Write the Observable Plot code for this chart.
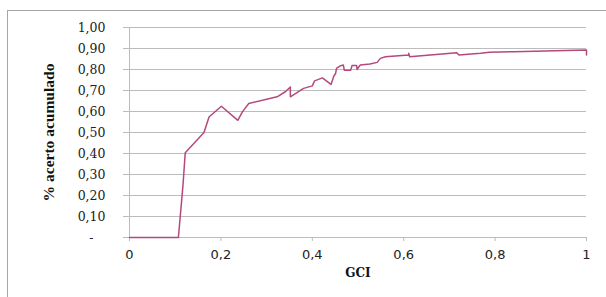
<!DOCTYPE html>
<html>
<head>
<meta charset="utf-8">
<script src="https://cdn.jsdelivr.net/npm/d3@7"></script>
<script src="https://cdn.jsdelivr.net/npm/@observablehq/plot@0.6"></script>
<style>
  html, body { margin: 0; padding: 0; background: #fff; }
  #wrap { position: relative; width: 606px; height: 297px; overflow: hidden; }
  #frame { position: absolute; left: 7px; top: 10px; width: 598px; height: 300px;
           border-top: 1px solid #a6a6a6; border-left: 1px solid #a6a6a6; }
  #chart { position: absolute; left: 0; top: 0; }
</style>
</head>
<body>
<div id="wrap"><div id="frame"></div><div id="chart"></div></div>
<script>
const gci = [0, 0.107, 0.117, 0.122, 0.163, 0.174, 0.201, 0.237, 0.247, 0.261, 0.323, 0.341, 0.352, 0.352, 0.381, 0.400, 0.405, 0.422, 0.441, 0.447, 0.451, 0.453, 0.462, 0.468, 0.470, 0.484, 0.487, 0.497, 0.498, 0.502, 0.505, 0.526, 0.542, 0.549, 0.560, 0.611, 0.611, 0.613, 0.716, 0.721, 0.768, 0.788, 0.841, 1.0, 1.0];
const acerto = [0, 0, 0.248, 0.404, 0.50, 0.574, 0.625, 0.558, 0.598, 0.638, 0.670, 0.694, 0.717, 0.670, 0.710, 0.722, 0.746, 0.760, 0.729, 0.768, 0.781, 0.805, 0.818, 0.821, 0.797, 0.797, 0.819, 0.819, 0.800, 0.813, 0.821, 0.826, 0.834, 0.853, 0.861, 0.869, 0.877, 0.861, 0.880, 0.869, 0.877, 0.882, 0.885, 0.893, 0.869];
const xTicks = [0, 0.2, 0.4, 0.6, 0.8, 1];
const yTicks = [0, 0.1, 0.2, 0.3, 0.4, 0.5, 0.6, 0.7, 0.8, 0.9, 1.0];
const xTitle = "GCI";
const yTitle = "% acerto acumulado";

const data = gci.map((g, i) => ({gci: g, acerto: acerto[i]}));
const grid = "#bcbcbc";

const chart = Plot.plot({
  width: 606,
  height: 297,
  marginLeft: 129,
  marginRight: 20,
  marginTop: 27,
  marginBottom: 60,
  style: {background: "transparent", overflow: "visible"},
  x: {domain: [0, 1]},
  y: {domain: [0, 1]},
  marks: [
    Plot.gridY(yTicks, {stroke: grid, strokeOpacity: 1, strokeWidth: 1}),
    Plot.axisY(yTicks, {
      tickSize: 6, tickPadding: 18, stroke: grid, strokeOpacity: 1,
      tickFormat: d => d === 0 ? "-\u00a0\u00a0\u00a0" : d.toFixed(2).replace(".", ","),
      fontFamily: "DejaVu Serif", fontSize: 12.5, fill: "#222", label: null,
      style: {letterSpacing: "1.2px"}
    }),
    Plot.axisX(xTicks, {
      tickSize: 4, tickPadding: 8, stroke: grid, strokeOpacity: 1,
      tickFormat: d => String(d).replace(".", ","),
      fontFamily: "DejaVu Sans", fontSize: 13, fill: "#222", label: null,
      style: {letterSpacing: "1px"}
    }),
    Plot.ruleX([0], {stroke: grid, strokeWidth: 1}),
    Plot.ruleY([0], {stroke: grid, strokeWidth: 1}),
    Plot.line(data, {x: "gci", y: "acerto", stroke: "#b5497d", strokeWidth: 1.5}),
    Plot.text([yTitle], {frameAnchor: "left", dx: -80, rotate: -90, textAnchor: "middle",
      fontFamily: "Liberation Serif", fontWeight: "bold", fontSize: 15.5, fill: "#111"}),
    Plot.text([xTitle], {frameAnchor: "bottom", dy: 39,
      fontFamily: "DejaVu Serif", fontWeight: "bold", fontSize: 12, fill: "#111",
      style: {letterSpacing: "1px"}})
  ]
});
document.getElementById("chart").appendChild(chart);
</script>
</body>
</html>
